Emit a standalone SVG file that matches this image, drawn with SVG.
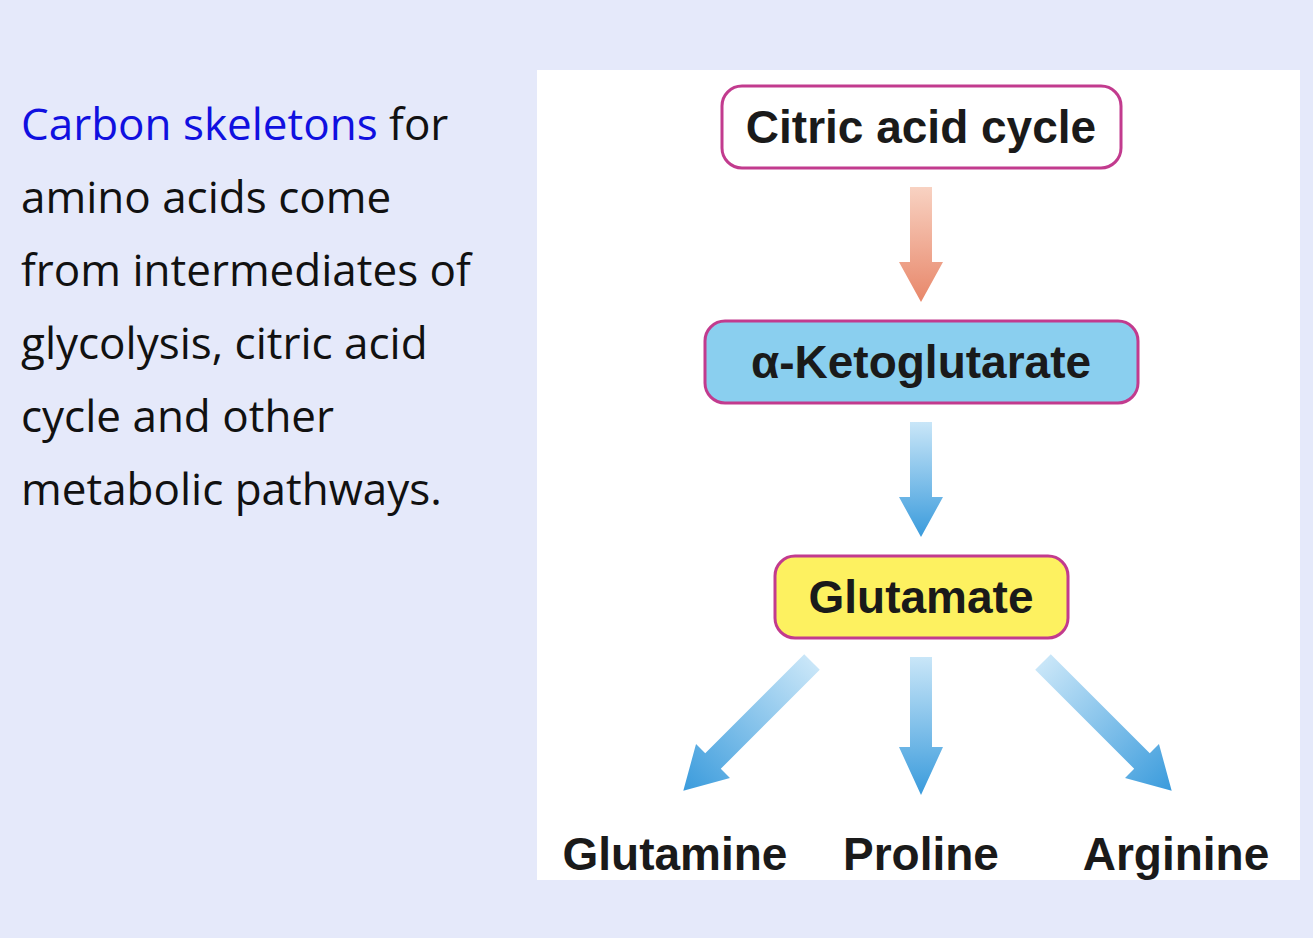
<svg xmlns="http://www.w3.org/2000/svg" width="1313" height="938" viewBox="0 0 1313 938">
<style>
.lt{font-family:"Open Sans","Liberation Sans",Arial,sans-serif;font-size:44px;fill:#111}
.bx{stroke:#C23B8E;stroke-width:3}
.bt{font-family:"Liberation Sans",Arial,sans-serif;font-weight:bold;font-size:46px;fill:#1a1a1a;text-anchor:middle}
</style>
<defs>
<linearGradient id="go" x1="0" y1="0" x2="0" y2="1"><stop offset="0" stop-color="#F8D2C2"/><stop offset="1" stop-color="#E8876A"/></linearGradient>
<linearGradient id="gb" x1="0" y1="0" x2="0" y2="1"><stop offset="0" stop-color="#C9E6F8"/><stop offset="1" stop-color="#3A9BDC"/></linearGradient>
<path id="arr" d="M-11,0 H11 V75 H22 L0,115 L-22,75 H-11 Z"/>
<path id="arrL" d="M-11,0 H11 V140 H24 L0,182 L-24,140 H-11 Z"/>
</defs>
<rect width="1313" height="938" fill="#E5E9FA"/>
<g id="caption">
<text class="lt" x="21" y="140"><tspan fill="#1010E0">Carbon skeletons</tspan> for</text>
<text class="lt" x="21" y="213">amino acids come</text>
<text class="lt" x="21" y="286">from intermediates of</text>
<text class="lt" x="21" y="359">glycolysis, citric acid</text>
<text class="lt" x="21" y="432">cycle and other</text>
<text class="lt" x="21" y="505">metabolic pathways.</text>
</g>
<rect x="537" y="70" width="763" height="810" fill="#fff"/>
<g id="connectors">
<use href="#arr" x="921" y="187" fill="url(#go)"/>
<use href="#arr" x="921" y="422" fill="url(#gb)"/>
<use href="#arr" x="921" y="657" fill="url(#gb)" transform="translate(0,0) scale(1,1.2) translate(0,-109.5)"/>
<use href="#arrL" fill="url(#gb)" transform="translate(812,662) rotate(45)"/>
<use href="#arrL" fill="url(#gb)" transform="translate(1043,662) rotate(-45)"/>
</g>
<g id="citric"><rect class="bx" x="722" y="86" width="399" height="82" rx="20" fill="#fff"/><text class="bt" x="921" y="143">Citric acid cycle</text></g>
<g id="akg"><rect class="bx" x="705" y="321" width="433" height="82" rx="20" fill="#8ACFEF"/><text class="bt" x="921" y="378">α-Ketoglutarate</text></g>
<g id="glutamate"><rect class="bx" x="775" y="556" width="293" height="82" rx="20" fill="#FDF160"/><text class="bt" x="921" y="613">Glutamate</text></g>
<g id="glutamine"><text class="bt" x="675" y="870">Glutamine</text></g>
<g id="proline"><text class="bt" x="921" y="870">Proline</text></g>
<g id="arginine"><text class="bt" x="1176" y="870">Arginine</text></g>
</svg>
